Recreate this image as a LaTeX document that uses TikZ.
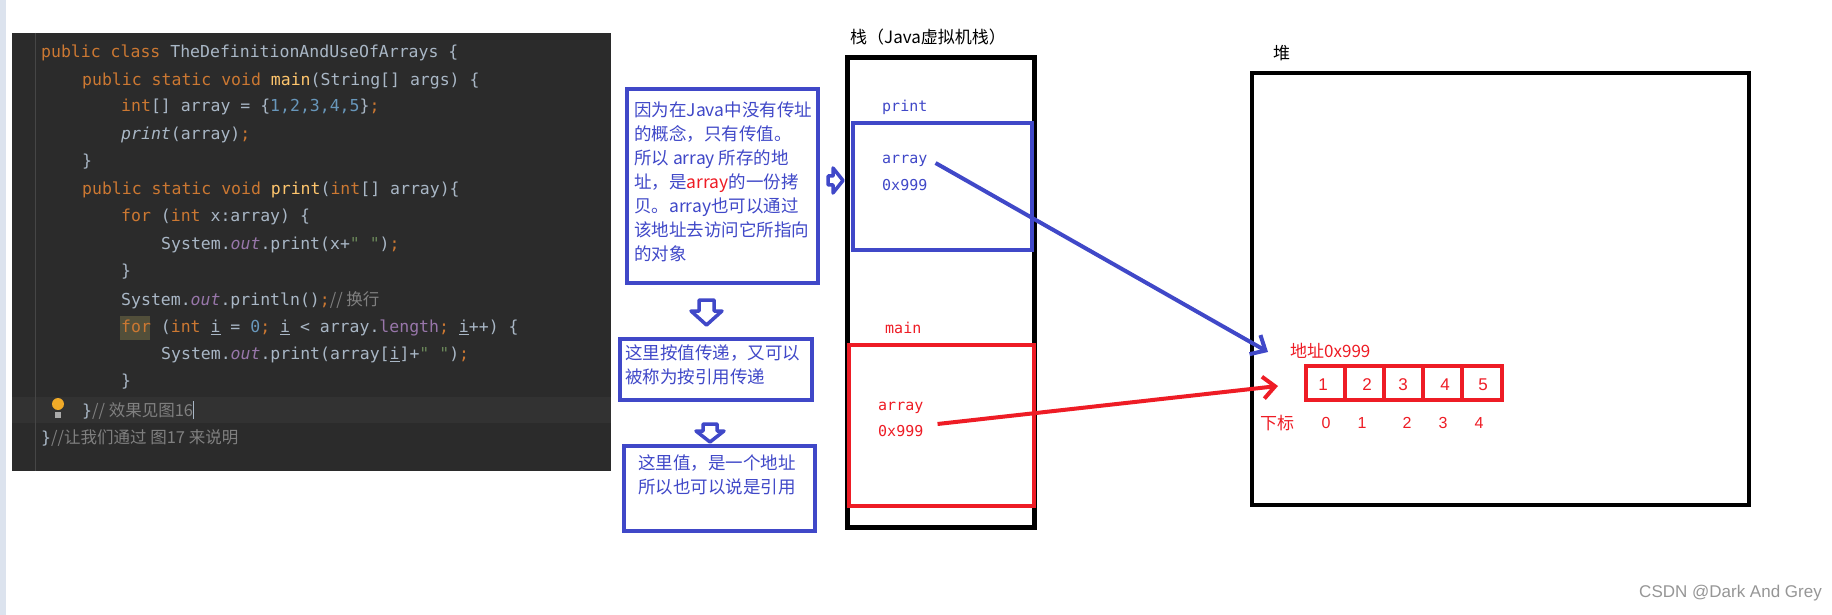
\documentclass[tikz,border=0pt]{standalone}
\usepackage{fontspec}
\usetikzlibrary{arrows.meta}
\newfontfamily\cjk{Noto Sans CJK SC}
\newfontfamily\codef{DejaVu Sans Mono}
\newfontfamily\lsans{Liberation Sans}
\definecolor{bgc}{HTML}{2B2B2B}
\definecolor{kw}{HTML}{CC7832}
\definecolor{tx}{HTML}{A9B7C6}
\definecolor{num}{HTML}{6897BB}
\definecolor{pur}{HTML}{9876AA}
\definecolor{yel}{HTML}{FFC66D}
\definecolor{strc}{HTML}{6A8759}
\definecolor{cm}{HTML}{808080}
\definecolor{bl}{HTML}{4048C8}
\definecolor{rd}{HTML}{EE1C25}
\definecolor{strip}{HTML}{DCE3EE}
\definecolor{hl}{HTML}{323232}
\definecolor{gut}{HTML}{464646}
\definecolor{forbg}{HTML}{524F3A}
\definecolor{bulb}{HTML}{F0AA28}
\definecolor{bulbb}{HTML}{AAAAAA}
\definecolor{wmc}{HTML}{969696}
\newcommand{\cKw}[1]{\textcolor{kw}{#1}}
\newcommand{\cTx}[1]{\textcolor{tx}{#1}}
\newcommand{\cNm}[1]{\textcolor{num}{#1}}
\newcommand{\cPu}[1]{\textcolor{pur}{\itshape #1}}
\newcommand{\cYl}[1]{\textcolor{yel}{#1}}
\newcommand{\cSg}[1]{\textcolor{strc}{#1}}
\newcommand{\cCm}[1]{\textcolor{cm}{{\cjk #1}}}
\begin{document}
\begin{tikzpicture}[x=1pt,y=-1pt,
  code/.style={anchor=west,inner sep=0pt,font=\codef\fontsize{16.5}{18}\selectfont},
  note/.style={anchor=west,inner sep=0pt,align=left,font=\cjk\fontsize{17.5}{24}\selectfont,text=bl},
  blbox/.style={draw=bl,line width=4pt},
  rdbox/.style={draw=rd,line width=4pt},
  lab/.style={anchor=west,inner sep=0pt,font=\codef\fontsize{15}{18}\selectfont},
  fat/.style={draw=bl,line width=3.5pt,fill=white,line join=round}]
\useasboundingbox (0,0) rectangle (1832,615);
\fill[white] (0,0) rectangle (1832,615);
\fill[strip] (0,0) rectangle (6,615);
% code panel
\fill[bgc] (12,33) rectangle (611,471);
\fill[hl] (12,397) rectangle (611,423);
\draw[gut] (35,33) -- (35,471);
\fill[forbg] (120,316) rectangle (150,340);
\node[code] (c1) at (41,53) {\cKw{public class }\cTx{TheDefinitionAndUseOfArrays \{}};
\node[code] (c2) at (82,81) {\cKw{public static void }\cYl{main}\cTx{(String[] args) \{}};
\node[code] (c3) at (121,107) {\cKw{int}\cTx{[] array = \{}\cNm{1,2,3,4,5}\cTx{\}}\cKw{;}};
\node[code] (c4) at (121,135) {\cTx{\itshape print}\cTx{(array)}\cKw{;}};
\node[code] (c5) at (82,162) {\cTx{\}}};
\node[code] (c6) at (82,190) {\cKw{public static void }\cYl{print}\cTx{(}\cKw{int}\cTx{[] array)\{}};
\node[code] (c7) at (121,217) {\cKw{for }\cTx{(}\cKw{int }\cTx{x:array) \{}};
\node[code] (c8) at (161,245) {\cTx{System.}\cPu{out}\cTx{.print(x+}\cSg{" "}\cTx{)}\cKw{;}};
\node[code] (c9) at (121,272) {\cTx{\}}};
\node[code] (c10) at (121,300) {\cTx{System.}\cPu{out}\cTx{.println()}\cKw{;}\cCm{// 换行}};
\node[code] (c11) at (121,328) {\cKw{for }\cTx{(}\cKw{int }\cTx{\underline{i} = }\cNm{0}\cKw{; }\cTx{\underline{i} < array.}\textcolor{pur}{length}\cKw{; }\cTx{\underline{i}++) \{}};
\node[code] (c12) at (161,355) {\cTx{System.}\cPu{out}\cTx{.print(array[\underline{i}]+}\cSg{" "}\cTx{)}\cKw{;}};
\node[code] (c13) at (121,382) {\cTx{\}}};
\node[code] (c14) at (82,410) {\cTx{\}}\cCm{// 效果见图16}\textcolor{tx}{\rule[-3pt]{1pt}{18pt}}};
\node[code] (c15) at (41,438) {\cTx{\}}\cCm{//让我们通过 图17 来说明}};
\fill[bulb] (58,404) circle (6);
\fill[bulbb] (55,412) rectangle (61,418);
% notes
\draw[blbox] (627,89) rectangle (818,283);
\node[note] (n1) at (634,182) {因为在Java中没有传址\\的概念，只有传值。\\所以 array 所存的地\\址，是\textcolor{rd}{array}的一份拷\\贝。array也可以通过\\该地址去访问它所指向\\的对象};
\draw[blbox] (620,339) rectangle (812,400);
\node[note] (n2) at (625,365) {这里按值传递，又可以\\被称为按引用传递};
\draw[blbox] (624,446) rectangle (815,531);
\node[note] (n3) at (638,475) {这里值，是一个地址\\所以也可以说是引用};
% fat arrows
\draw[fat] (699,300) -- (714,300) -- (714,311) -- (722,311) -- (706.5,325) -- (691,311) -- (699,311) -- cycle;
\draw[fat] (703,424) -- (717,424) -- (717,431) -- (724,431) -- (710,442) -- (696,431) -- (703,431) -- cycle;
\draw[fat] (828,176) -- (833,176) -- (833,168) -- (843,180.5) -- (833,193) -- (833,185) -- (828,185) -- cycle;
% stack
\node[anchor=west,inner sep=0pt,font=\cjk\fontsize{17}{20}\selectfont] (st) at (850,37) {栈（Java虚拟机栈）};
\draw[line width=5pt] (847,58) rectangle (1034,527);
\node[lab,text=bl] (pl) at (882,107) {print};
\draw[blbox] (853,123) rectangle (1032,250);
\node[lab,text=bl] (pa) at (882,161) {array};
\node[lab,text=bl] (pv) at (882,185) {0x999};
\node[lab,text=rd] (ml) at (885,328) {main};
\draw[rdbox] (849,345) rectangle (1034,506);
\node[lab,text=rd] (ma) at (878,408) {array};
\node[lab,text=rd] (mv) at (878,431) {0x999};
% heap
\node[anchor=west,inner sep=0pt,font=\cjk\fontsize{17}{20}\selectfont] (hp) at (1273,53) {堆};
\draw[line width=4pt] (1252,73) rectangle (1749,505);
\node[anchor=west,inner sep=0pt,font=\cjk\fontsize{17}{20}\selectfont,text=rd] (addr) at (1290,351) {地址0x999};
\draw[rdbox] (1306,366) rectangle (1502,400);
\foreach \x in {1345,1384,1423,1462} \draw[rd,line width=4pt] (\x,366) -- (\x,400);
\foreach \x/\v/\n in {1323/1/a,1367/2/b,1403/3/c,1445/4/d,1483/5/e}
  \node[text=rd,inner sep=0pt,font=\lsans\fontsize{17}{20}\selectfont] (v\n) at (\x,385) {\v};
\node[anchor=west,inner sep=0pt,font=\cjk\fontsize{17}{20}\selectfont,text=rd] (xb) at (1260,423) {下标};
\foreach \x/\v/\n in {1326/0/a,1362/1/b,1407/2/c,1443/3/d,1479/4/e}
  \node[text=rd,inner sep=0pt,font=\lsans\fontsize{16}{20}\selectfont] (i\n) at (\x,423) {\v};
% pointers
\coordinate (bt) at (1268,352);
\coordinate (rt) at (1278,386);
\draw[bl,line width=4pt,-{Straight Barb[length=12pt,width=22pt]}] (pa.east) ++(8,2) -- (bt);
\draw[rd,line width=4pt,-{Straight Barb[length=12pt,width=22pt]}] (ma.east) ++(14,16) -- (rt);
\node[anchor=east,inner sep=0pt,text=wmc,font=\lsans\fontsize{17}{20}\selectfont] (wm) at (1822,593) {CSDN @Dark And Grey};
\end{tikzpicture}
\end{document}
